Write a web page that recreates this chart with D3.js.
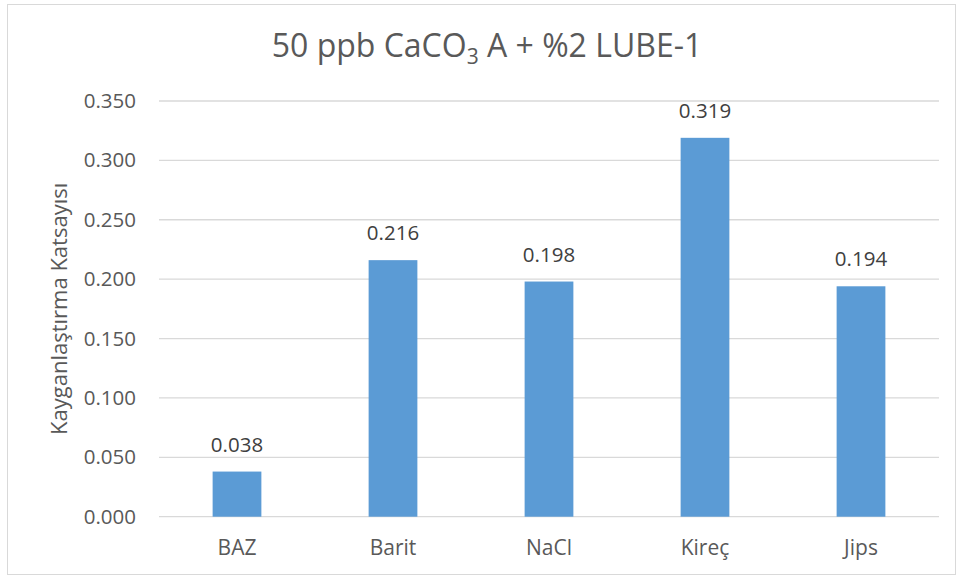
<!DOCTYPE html>
<html>
<head>
<meta charset="utf-8">
<script src="https://cdn.jsdelivr.net/npm/d3@7"></script>
<style>
  html, body { margin: 0; padding: 0; background: #fff; }
  svg { display: block; font-family: "Open Sans", "Segoe UI", sans-serif; }
</style>
</head>
<body>
<svg id="chart" width="962" height="578"></svg>
<script>
// Friction coefficient per additive
const categories = ["BAZ", "Barit", "NaCl", "Kireç", "Jips"];
const values = [0.038, 0.216, 0.198, 0.319, 0.194];
const yTicks = [0, 0.05, 0.1, 0.15, 0.2, 0.25, 0.3, 0.35];
const titleParts = ["50 ppb CaCO", "3", " A + %2 LUBE-1"];
const yTitle = "Kayganlaştırma Katsayısı";

const svg = d3.select("#chart");
const textColor = "#595959";
const gridColor = "#d9d9d9";
const barColor = "#5b9bd5";

// chart frame
svg.append("rect")
  .attr("x", 7.5).attr("y", 4.5)
  .attr("width", 948).attr("height", 570)
  .attr("fill", "#fff").attr("stroke", gridColor).attr("stroke-width", 1);

const plot = { left: 159, right: 939, top: 101, bottom: 516.7 };

const x = d3.scaleBand()
  .domain(categories)
  .range([plot.left, plot.right])
  .paddingInner(0.6875)
  .paddingOuter(0.34375);

const y = d3.scaleLinear()
  .domain([0, 0.35])
  .range([plot.bottom, plot.top]);

// gridlines
svg.append("g")
  .selectAll("line")
  .data(yTicks)
  .join("line")
  .attr("x1", plot.left).attr("x2", plot.right)
  .attr("y1", d => y(d)).attr("y2", d => y(d))
  .attr("stroke", gridColor).attr("stroke-width", 1.3);

// y axis tick labels
const yAxis = d3.axisLeft(y).tickValues(yTicks).tickFormat(d3.format(".3f")).tickSize(0).tickPadding(23);
const gy = svg.append("g").attr("transform", `translate(${plot.left},0)`).call(yAxis);
gy.select(".domain").remove();
gy.selectAll("text")
  .attr("font-family", "Open Sans, sans-serif")
  .attr("font-size", 20.5)
  .attr("fill", textColor);

// x axis labels
const xAxis = d3.axisBottom(x).tickSize(0).tickPadding(23);
const gx = svg.append("g").attr("transform", `translate(0,${plot.bottom})`).call(xAxis);
gx.select(".domain").remove();
gx.selectAll("text")
  .attr("font-family", "Open Sans, sans-serif")
  .attr("font-size", 21)
  .attr("fill", textColor);

// bars
svg.append("g")
  .selectAll("rect")
  .data(values)
  .join("rect")
  .attr("x", (d, i) => x(categories[i]))
  .attr("width", x.bandwidth())
  .attr("y", d => y(d))
  .attr("height", d => y(0) - y(d))
  .attr("fill", barColor);

// value labels
svg.append("g")
  .selectAll("text")
  .data(values)
  .join("text")
  .attr("x", (d, i) => x(categories[i]) + x.bandwidth() / 2)
  .attr("y", d => y(d) - 20)
  .attr("text-anchor", "middle")
  .attr("font-size", 20.5)
  .attr("fill", "#404040")
  .text(d => d3.format(".3f")(d));

// title with subscript
const title = svg.append("text")
  .attr("x", 487)
  .attr("y", 57)
  .attr("text-anchor", "middle")
  .attr("font-size", 32)
  .attr("fill", textColor);
title.append("tspan").text(titleParts[0]);
title.append("tspan").attr("font-size", 21).attr("dy", 7).text(titleParts[1]);
title.append("tspan").attr("dy", -7).text(titleParts[2]);

// y axis title
svg.append("text")
  .attr("transform", `translate(67,${(plot.top + plot.bottom) / 2}) rotate(-90)`)
  .attr("text-anchor", "middle")
  .attr("font-size", 22)
  .attr("fill", textColor)
  .text(yTitle);
</script>
</body>
</html>
